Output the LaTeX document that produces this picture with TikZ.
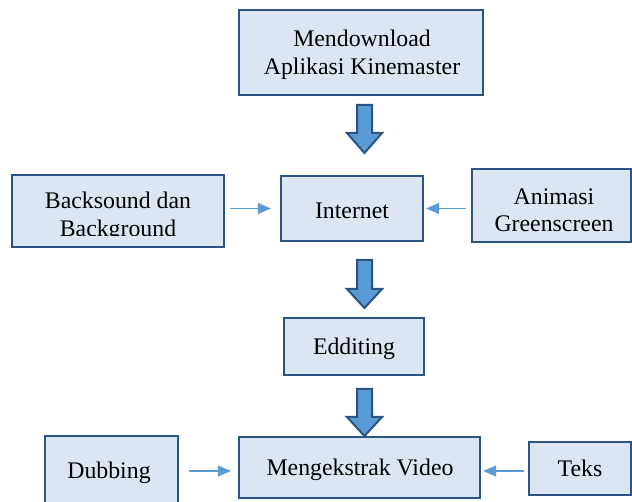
\documentclass[tikz,border=0pt]{standalone}
\usepackage{fontspec}
\setmainfont{Liberation Serif}
\usetikzlibrary{arrows.meta}
\definecolor{boxfill}{HTML}{DCE6F2}
\definecolor{boxline}{HTML}{2C5482}
\definecolor{arrfill}{HTML}{5B9BD5}
\definecolor{thinarr}{HTML}{5B9BD5}
\newcommand\blockarr[4]{%
  \path[blk] (#1-7.5,#2) -- (#1+7.5,#2) -- (#1+7.5,#3) -- (#1+17.5,#3) -- (#1,#4)
    -- (#1-17.5,#3) -- (#1-7.5,#3) -- cycle;}
\begin{document}
\begin{tikzpicture}[x=1pt,y=-1pt,
  box/.style={draw=boxline, line width=2.4pt, fill=boxfill, inner sep=0pt},
  txt/.style={inner sep=0pt, font=\fontsize{23.8}{27.5}\selectfont, align=center},
  conn/.style={draw=thinarr, line width=1.2pt, -{Triangle[length=13pt,width=11pt]}},
  blk/.style={draw=boxline, line width=2pt, fill=arrfill, line join=miter}]
\useasboundingbox (0,0) rectangle (632,502);
\node[box, minimum width=244pt, minimum height=85pt] (dl) at (361,52.5) {};
\node[txt] (dlt) at (362,55) {Mendownload\\Aplikasi Kinemaster};
\node[box, minimum width=212pt, minimum height=72pt] (bs) at (118,211) {};
\begin{scope}
  \clip (12,175) rectangle (224,236);
  \node[txt] (bst) at (118,217) {Backsound dan\\Background};
\end{scope}
\node[box, minimum width=142pt, minimum height=65pt] (inet) at (352,208.5) {};
\node[txt] (inett) at (352,210.5) {Internet};
\node[box, minimum width=159pt, minimum height=73pt] (anim) at (551.5,205.5) {};
\node[txt] (animt) at (554,210) {Animasi\\Greenscreen};
\node[box, minimum width=140pt, minimum height=57pt] (edd) at (354,346.5) {};
\node[txt] (eddt) at (354,349) {Edditing};
\node[box, minimum width=241pt, minimum height=61pt] (mv) at (359.5,467.5) {};
\node[txt] (mvt) at (360,469.5) {Mengekstrak Video};
\node[box, minimum width=133pt, minimum height=70pt] (dub) at (111.5,471) {};
\node[txt] (dubt) at (109,473) {Dubbing};
\node[box, minimum width=102pt, minimum height=53pt] (teks) at (580,468.5) {};
\node[txt] (tekst) at (580,468.5) {Teks};
\blockarr{364.5}{105}{133}{153}
\blockarr{364.5}{260}{289}{308}
\blockarr{364.5}{389}{417}{436}
\draw[conn, shorten <=5pt, shorten >=9pt] (bs.east |- inet.west) -- (inet.west);
\draw[conn, shorten <=5pt, shorten >=2pt] (anim.west |- inet.east) -- (inet.east);
\draw[conn, shorten <=10pt, shorten >=7pt] (dub.east) -- (dub.east -| mv.west);
\draw[conn, shorten <=4pt, shorten >=2pt] (teks.west |- dub.east) -- (dub.east -| mv.east);
\end{tikzpicture}
\end{document}
